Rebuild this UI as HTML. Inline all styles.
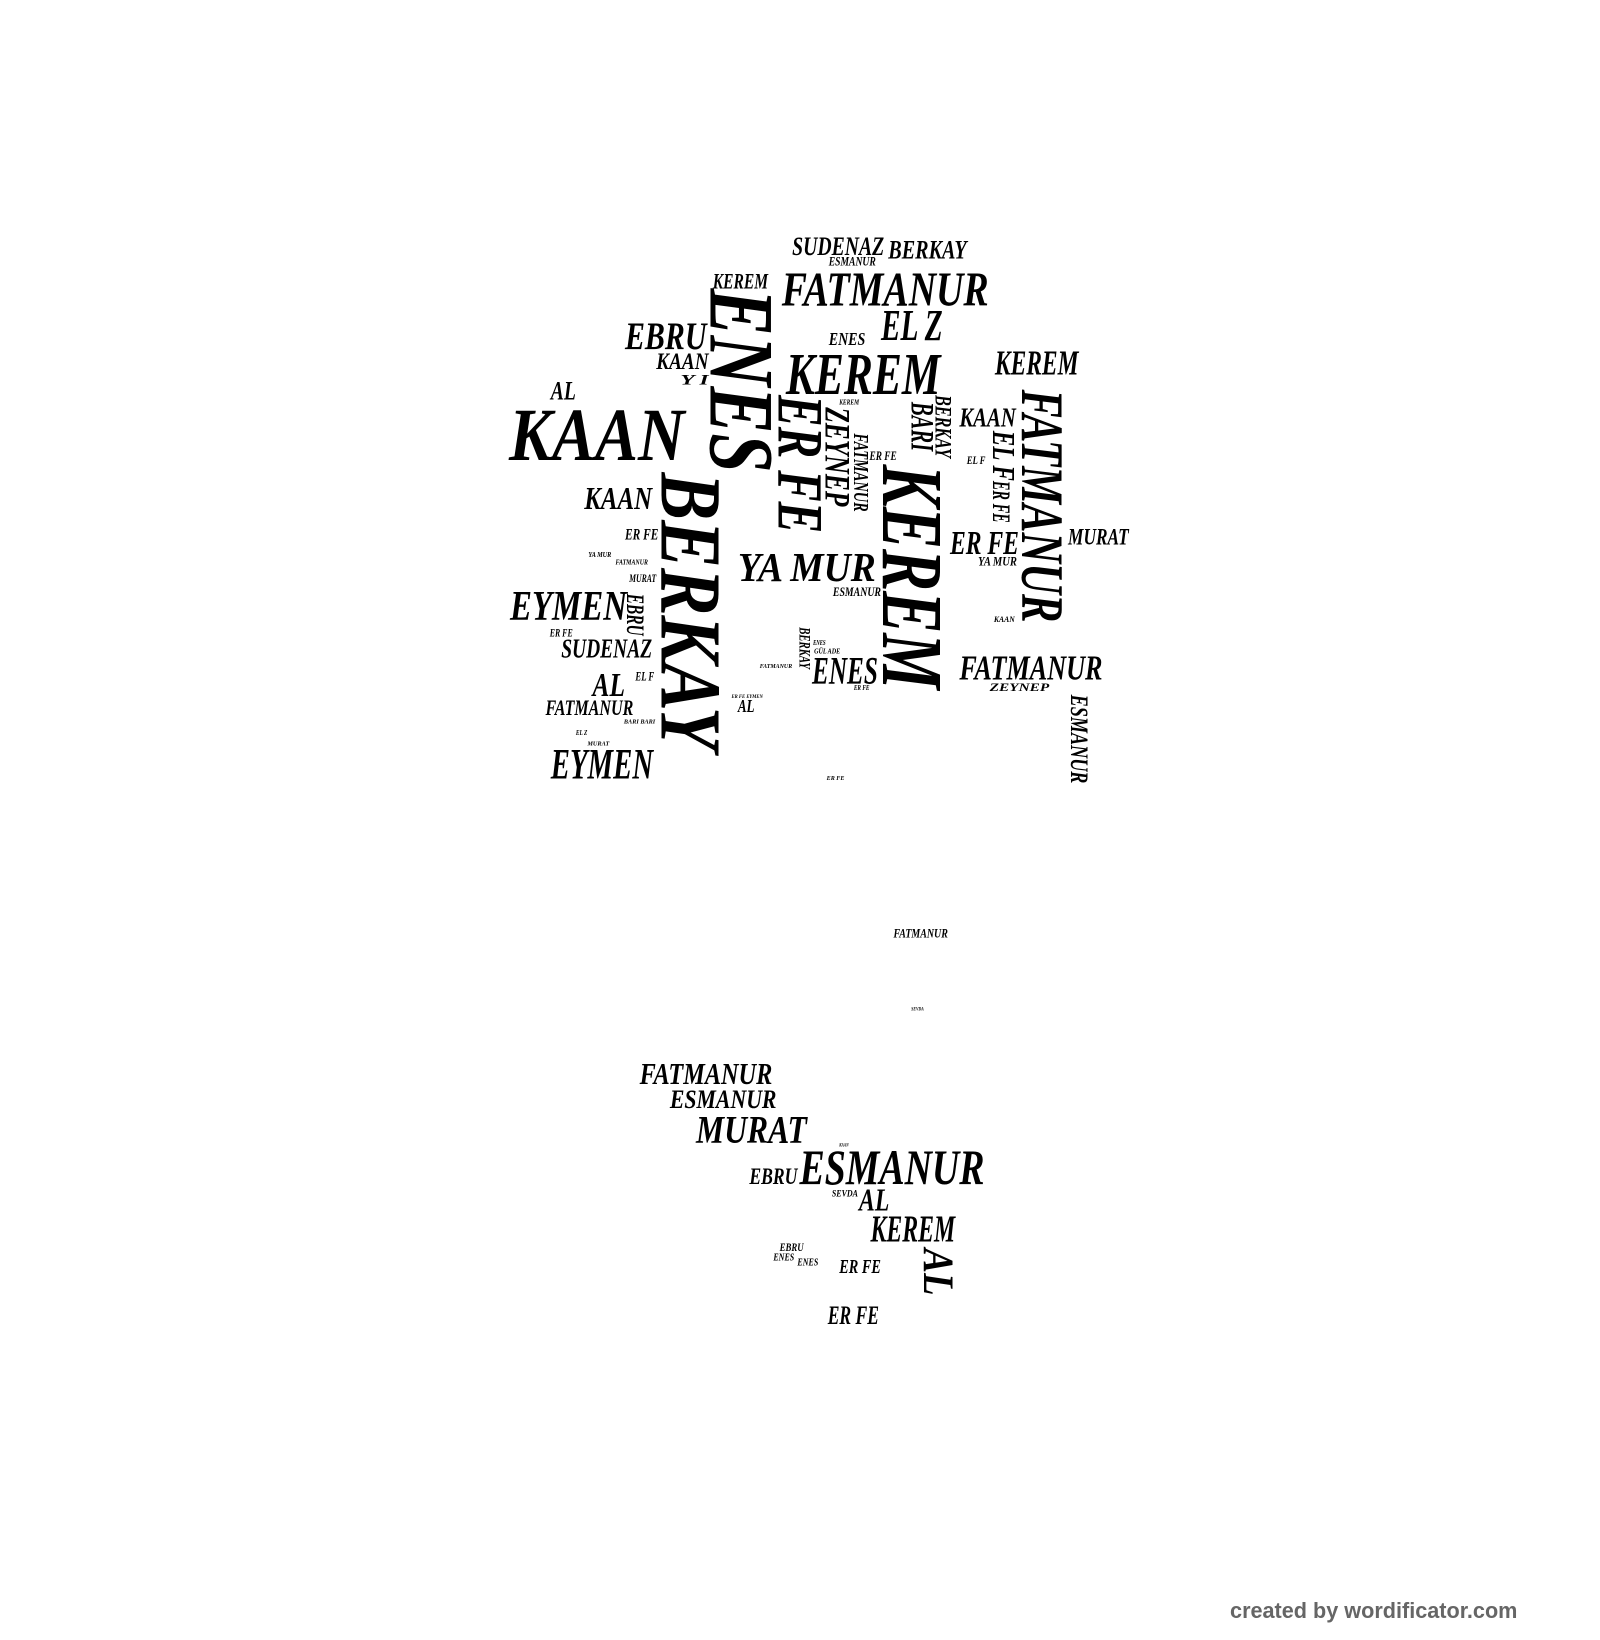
<!DOCTYPE html>
<html><head><meta charset="utf-8"><style>
html,body{margin:0;padding:0;background:#fff;}
svg{display:block;}
text{font-family:"Liberation Serif",serif;font-weight:bold;font-style:italic;fill:#000;}
.w{font-family:"Liberation Sans",sans-serif;font-style:normal;fill:#666;}
</style></head><body>
<svg width="1600" height="1640" viewBox="0 0 1531 1569" xmlns="http://www.w3.org/2000/svg">
<!-- horizontal words: x=left, y=bottom -->
<text x="758" y="244" font-size="25" textLength="88" lengthAdjust="spacingAndGlyphs">SUDENAZ</text>
<text x="850" y="247" font-size="25" textLength="75" lengthAdjust="spacingAndGlyphs">BERKAY</text>
<text x="793" y="254" font-size="12" textLength="45" lengthAdjust="spacingAndGlyphs">ESMANUR</text>
<text x="682" y="276" font-size="21" textLength="53" lengthAdjust="spacingAndGlyphs">KEREM</text>
<text x="748" y="292" font-size="47" textLength="198" lengthAdjust="spacingAndGlyphs">FATMANUR</text>
<text x="598" y="334" font-size="37" textLength="78" lengthAdjust="spacingAndGlyphs">EBRU</text>
<text x="843" y="325" font-size="43" textLength="59" lengthAdjust="spacingAndGlyphs">EL Z</text>
<text x="793" y="330" font-size="17" textLength="35" lengthAdjust="spacingAndGlyphs">ENES</text>
<text x="628" y="353" font-size="22" textLength="50" lengthAdjust="spacingAndGlyphs">KAAN</text>
<text x="752" y="377" font-size="57" textLength="148" lengthAdjust="spacingAndGlyphs">KEREM</text>
<text x="952" y="358" font-size="33" textLength="80" lengthAdjust="spacingAndGlyphs">KEREM</text>
<text x="651" y="368" font-size="14" textLength="27" lengthAdjust="spacingAndGlyphs">Y  I</text>
<text x="527" y="382" font-size="25" textLength="24" lengthAdjust="spacingAndGlyphs">AL</text>
<text x="487" y="440" font-size="72" textLength="168" lengthAdjust="spacingAndGlyphs">KAAN</text>
<text x="918" y="408" font-size="26" textLength="54" lengthAdjust="spacingAndGlyphs">KAAN</text>
<text x="803" y="387" font-size="7" textLength="19" lengthAdjust="spacingAndGlyphs">KEREM</text>
<text x="832" y="440" font-size="12" textLength="26" lengthAdjust="spacingAndGlyphs">ER FE</text>
<text x="925" y="444" font-size="11" textLength="18" lengthAdjust="spacingAndGlyphs">EL F</text>
<text x="559" y="487" font-size="30" textLength="65" lengthAdjust="spacingAndGlyphs">KAAN</text>
<text x="909" y="530" font-size="32" textLength="66" lengthAdjust="spacingAndGlyphs">ER FE</text>
<text x="1022" y="521" font-size="22" textLength="58" lengthAdjust="spacingAndGlyphs">MURAT</text>
<text x="598" y="516" font-size="15" textLength="32" lengthAdjust="spacingAndGlyphs">ER FE</text>
<text x="706" y="556" font-size="39" textLength="132" lengthAdjust="spacingAndGlyphs">YA MUR</text>
<text x="936" y="541" font-size="12" textLength="37" lengthAdjust="spacingAndGlyphs">YA MUR</text>
<text x="563" y="533" font-size="7" textLength="22" lengthAdjust="spacingAndGlyphs">YA MUR</text>
<text x="589" y="540" font-size="7" textLength="31" lengthAdjust="spacingAndGlyphs">FATMANUR</text>
<text x="602" y="557" font-size="11" textLength="26" lengthAdjust="spacingAndGlyphs">MURAT</text>
<text x="797" y="570" font-size="12" textLength="46" lengthAdjust="spacingAndGlyphs">ESMANUR</text>
<text x="488" y="593" font-size="40" textLength="112" lengthAdjust="spacingAndGlyphs">EYMEN</text>
<text x="951" y="595" font-size="8" textLength="20" lengthAdjust="spacingAndGlyphs">KAAN</text>
<text x="526" y="609" font-size="11" textLength="22" lengthAdjust="spacingAndGlyphs">ER FE</text>
<text x="537" y="629" font-size="26" textLength="87" lengthAdjust="spacingAndGlyphs">SUDENAZ</text>
<text x="918" y="650" font-size="33" textLength="137" lengthAdjust="spacingAndGlyphs">FATMANUR</text>
<text x="777" y="654" font-size="37" textLength="63" lengthAdjust="spacingAndGlyphs">ENES</text>
<text x="727" y="639" font-size="6" textLength="31" lengthAdjust="spacingAndGlyphs">FATMANUR</text>
<text x="778" y="617" font-size="7" textLength="12" lengthAdjust="spacingAndGlyphs">ENES</text>
<text x="779" y="625" font-size="7" textLength="25" lengthAdjust="spacingAndGlyphs">GÜL ADE</text>
<text x="567" y="666" font-size="32" textLength="31" lengthAdjust="spacingAndGlyphs">AL</text>
<text x="608" y="651" font-size="12" textLength="18" lengthAdjust="spacingAndGlyphs">EL F</text>
<text x="817" y="660" font-size="7" textLength="15" lengthAdjust="spacingAndGlyphs">ER FE</text>
<text x="947" y="661" font-size="11" textLength="57" lengthAdjust="spacingAndGlyphs">ZEYNEP</text>
<text x="522" y="684" font-size="21" textLength="84" lengthAdjust="spacingAndGlyphs">FATMANUR</text>
<text x="706" y="681" font-size="17" textLength="16" lengthAdjust="spacingAndGlyphs">AL</text>
<text x="700" y="668" font-size="5" textLength="30" lengthAdjust="spacingAndGlyphs">ER FE  EYMEN</text>
<text x="597" y="692" font-size="6" textLength="30" lengthAdjust="spacingAndGlyphs">BARI BARI</text>
<text x="551" y="703" font-size="7" textLength="11" lengthAdjust="spacingAndGlyphs">EL Z</text>
<text x="562" y="713" font-size="6" textLength="21" lengthAdjust="spacingAndGlyphs">MURAT</text>
<text x="527" y="745" font-size="42" textLength="98" lengthAdjust="spacingAndGlyphs">EYMEN</text>
<text x="791" y="746" font-size="6" textLength="17" lengthAdjust="spacingAndGlyphs">ER FE</text>
<text x="855" y="897" font-size="12" textLength="52" lengthAdjust="spacingAndGlyphs">FATMANUR</text>
<text x="872" y="967" font-size="5" textLength="12" lengthAdjust="spacingAndGlyphs">SEVDA</text>
<text x="612" y="1037" font-size="29" textLength="127" lengthAdjust="spacingAndGlyphs">FATMANUR</text>
<text x="641" y="1060" font-size="25" textLength="102" lengthAdjust="spacingAndGlyphs">ESMANUR</text>
<text x="666" y="1093" font-size="37" textLength="106" lengthAdjust="spacingAndGlyphs">MURAT</text>
<text x="717" y="1133" font-size="22" textLength="46" lengthAdjust="spacingAndGlyphs">EBRU</text>
<text x="765" y="1133" font-size="48" textLength="177" lengthAdjust="spacingAndGlyphs">ESMANUR</text>
<text x="803" y="1097" font-size="5" textLength="9" lengthAdjust="spacingAndGlyphs">KAAN</text>
<text x="796" y="1145" font-size="9" textLength="25" lengthAdjust="spacingAndGlyphs">SEVDA</text>
<text x="822" y="1158" font-size="30" textLength="29" lengthAdjust="spacingAndGlyphs">AL</text>
<text x="833" y="1188" font-size="36" textLength="81" lengthAdjust="spacingAndGlyphs">KEREM</text>
<text x="746" y="1197" font-size="11" textLength="23" lengthAdjust="spacingAndGlyphs">EBRU</text>
<text x="740" y="1206" font-size="10" textLength="20" lengthAdjust="spacingAndGlyphs">ENES</text>
<text x="763" y="1211" font-size="10" textLength="20" lengthAdjust="spacingAndGlyphs">ENES</text>
<text x="803" y="1218" font-size="19" textLength="40" lengthAdjust="spacingAndGlyphs">ER FE</text>
<text x="792" y="1267" font-size="25" textLength="49" lengthAdjust="spacingAndGlyphs">ER FE</text>
<!-- vertical words: translate(left, centerY) rotate(90) -->
<text transform="translate(680,364) rotate(90)" text-anchor="middle" font-size="88" textLength="176" lengthAdjust="spacingAndGlyphs">ENES</text>
<text transform="translate(633,585) rotate(90)" text-anchor="middle" font-size="83" textLength="266" lengthAdjust="spacingAndGlyphs">BERKAY</text>
<text transform="translate(745,444) rotate(90)" text-anchor="middle" font-size="62" textLength="132" lengthAdjust="spacingAndGlyphs">ER FE</text>
<text transform="translate(790,437) rotate(90)" text-anchor="middle" font-size="34" textLength="95" lengthAdjust="spacingAndGlyphs">ZEYNEP</text>
<text transform="translate(817,452) rotate(90)" text-anchor="middle" font-size="20" textLength="75" lengthAdjust="spacingAndGlyphs">FATMANUR</text>
<text transform="translate(872,408) rotate(90)" text-anchor="middle" font-size="31" textLength="47" lengthAdjust="spacingAndGlyphs">BARI</text>
<text transform="translate(895,408) rotate(90)" text-anchor="middle" font-size="22" textLength="60" lengthAdjust="spacingAndGlyphs">BERKAY</text>
<text transform="translate(845,552) rotate(90)" text-anchor="middle" font-size="83" textLength="215" lengthAdjust="spacingAndGlyphs">KEREM</text>
<text transform="translate(950,436) rotate(90)" text-anchor="middle" font-size="30" textLength="48" lengthAdjust="spacingAndGlyphs">EL F</text>
<text transform="translate(950,480) rotate(90)" text-anchor="middle" font-size="24" textLength="40" lengthAdjust="spacingAndGlyphs">ER FE</text>
<text transform="translate(978,484) rotate(90)" text-anchor="middle" font-size="58" textLength="223" lengthAdjust="spacingAndGlyphs">FATMANUR</text>
<text transform="translate(600,588) rotate(90)" text-anchor="middle" font-size="24" textLength="40" lengthAdjust="spacingAndGlyphs">EBRU</text>
<text transform="translate(765,620) rotate(90)" text-anchor="middle" font-size="15" textLength="40" lengthAdjust="spacingAndGlyphs">BERKAY</text>
<text transform="translate(1025,707) rotate(90)" text-anchor="middle" font-size="24" textLength="85" lengthAdjust="spacingAndGlyphs">ESMANUR</text>
<text transform="translate(884,1217) rotate(90)" text-anchor="middle" font-size="42" textLength="45" lengthAdjust="spacingAndGlyphs">AL</text>
<text class="w" x="1177" y="1548" font-size="21" textLength="275" lengthAdjust="spacingAndGlyphs">created by wordificator.com</text>
</svg>
</body></html>
